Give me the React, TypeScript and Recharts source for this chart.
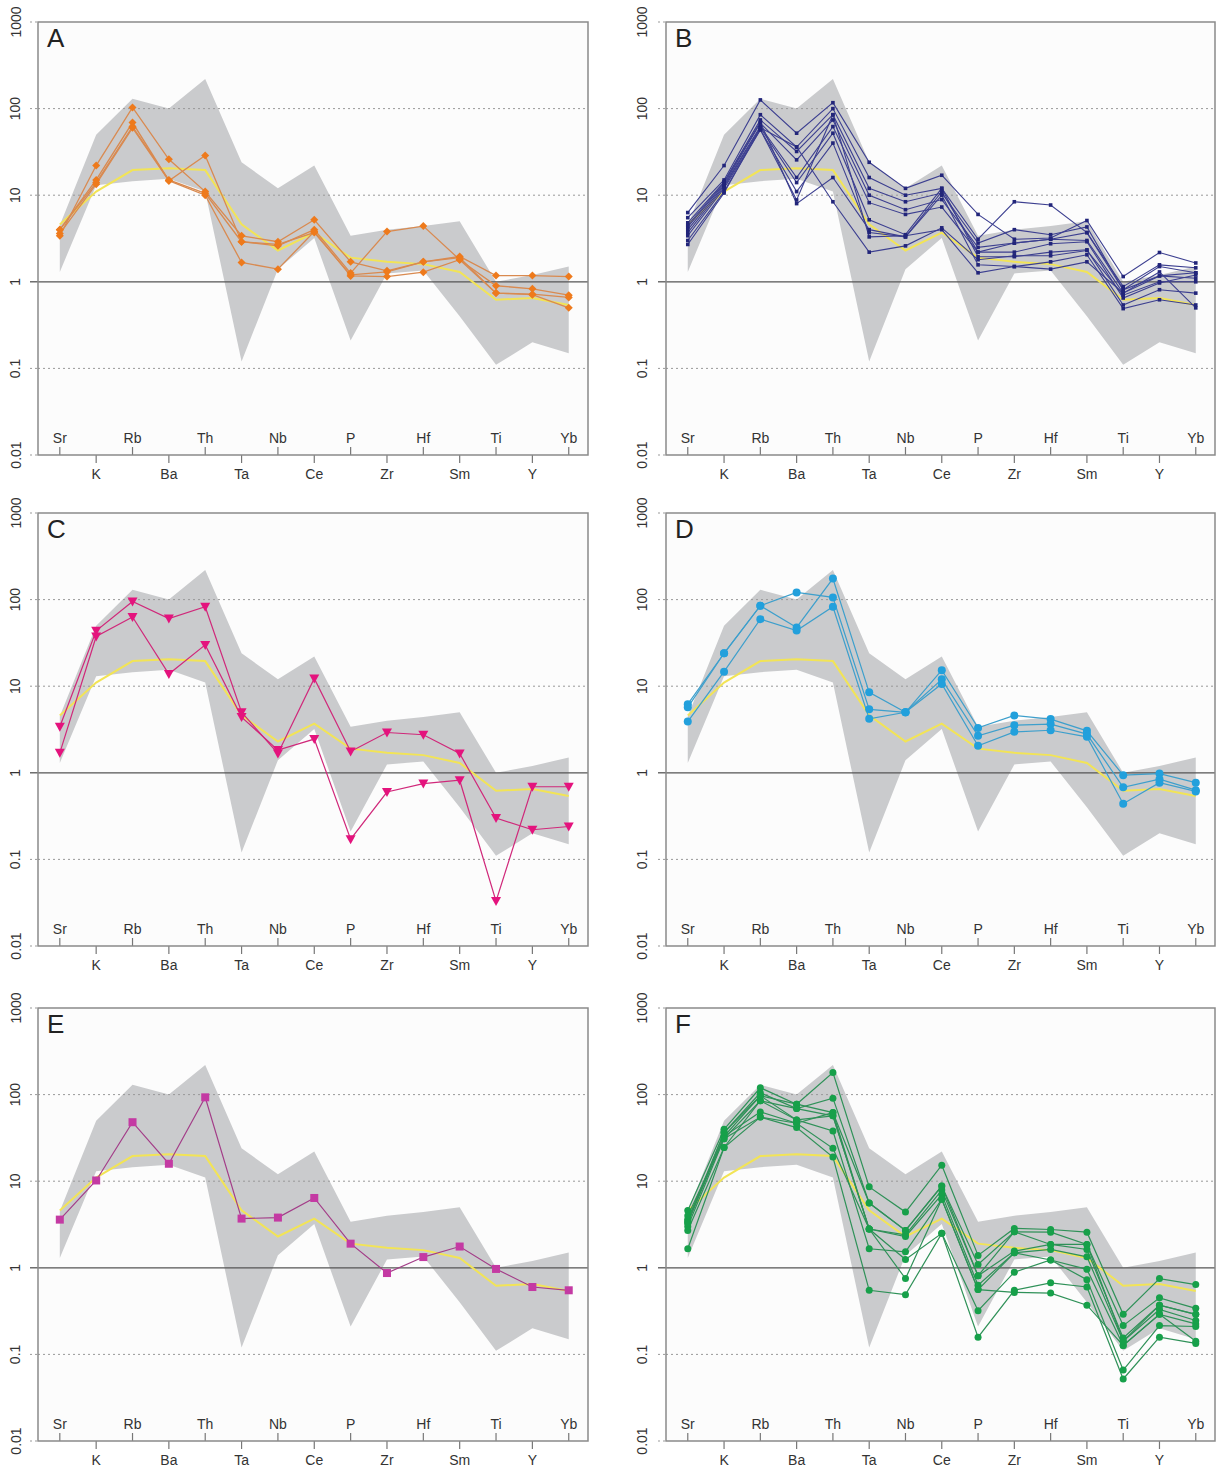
import React from 'react';
import { ComposedChart, Line, Area, XAxis, YAxis, ReferenceLine } from 'recharts';

const ELEMENTS = ['Sr', 'K', 'Rb', 'Ba', 'Th', 'Ta', 'Nb', 'Ce', 'P', 'Zr', 'Hf', 'Sm', 'Ti', 'Y', 'Yb'];
const Y_TICKS = [0.01, 0.1, 1, 10, 100, 1000];

const BAND_LOW = [1.3, 13, 14.5, 15.5, 11, 0.12, 1.4, 3.2, 0.21, 1.25, 1.35, 0.4, 0.11, 0.2, 0.15];
const BAND_HIGH = [4.5, 50, 130, 100, 220, 24, 12, 22, 3.4, 4.0, 4.4, 5.0, 1.0, 1.2, 1.5];
const AVERAGE = [4.6, 11, 19.5, 20.5, 19.5, 4.6, 2.3, 3.7, 1.9, 1.7, 1.6, 1.3, 0.62, 0.65, 0.54];

const A_SAMPLES = [
  [3.4, 22, 103, 26, 11, 3.4, 2.9, 5.2, 1.7, 1.34, 1.7, 1.96, 1.18, 1.18, 1.15],
  [4.0, 15, 69, 14.7, 28.7, 2.9, 2.6, 4.0, 1.26, 3.8, 4.4, 1.8, 0.9, 0.83, 0.7],
  [3.6, 13.4, 60, 14.7, 10, 1.67, 1.4, 3.8, 1.17, 1.15, 1.29, 1.8, 0.74, 0.71, 0.5],
  [4.0, 14, 62, 15, 10.5, 2.9, 2.7, 3.7, 1.2, 1.3, 1.7, 1.9, 0.74, 0.72, 0.66],
];

const B_SAMPLES = [
  [6.3, 22, 126, 52, 117, 24, 12, 17, 6.0, 3.1, 3.2, 5.1, 1.15, 2.18, 1.65],
  [5.5, 15, 85, 36, 100, 16, 10, 12, 3.1, 8.4, 7.7, 3.7, 0.88, 1.57, 1.45],
  [4.8, 14.3, 74, 32, 85, 12, 8.4, 10.6, 2.8, 4.0, 3.5, 4.3, 0.81, 1.5, 1.27],
  [4.3, 13.5, 68, 25.6, 74, 10, 6.8, 8.9, 2.5, 2.8, 3.1, 3.0, 0.74, 1.17, 1.1],
  [4.0, 13, 62, 16, 62, 8.2, 6.0, 7.3, 2.2, 2.2, 2.75, 2.9, 0.65, 0.97, 1.2],
  [3.7, 12.5, 60, 14, 52, 5.2, 3.5, 12, 1.95, 1.95, 2.2, 2.34, 0.54, 0.81, 0.74],
  [3.4, 12, 57, 11, 40, 3.7, 3.3, 10, 1.57, 1.5, 1.7, 2.05, 0.49, 0.62, 0.54],
  [3.0, 11, 57, 8.8, 85, 3.3, 3.4, 4.0, 1.27, 1.5, 1.4, 1.7, 0.74, 1.3, 0.5],
  [2.7, 10.6, 60, 36, 8.4, 2.2, 2.6, 4.2, 1.8, 2.0, 2.0, 2.3, 0.7, 1.0, 1.0],
  [4.5, 14, 70, 8.0, 16, 4.0, 3.3, 11, 2.2, 2.8, 3.1, 3.7, 0.81, 1.17, 1.27],
];

const C_SAMPLES = [
  [3.4, 43.6, 95, 60.5, 82.6, 5.0, 1.67, 12.3, 1.76, 2.92, 2.75, 1.67, 0.3, 0.22, 0.24],
  [1.7, 37.5, 63, 13.8, 30, 4.4, 1.83, 2.45, 0.171, 0.6, 0.75, 0.82, 0.033, 0.69, 0.69],
];

const D_SAMPLES = [
  [6.2, 24, 85, 121, 106, 5.4, 5.0, 15.3, 3.3, 4.6, 4.17, 3.05, 0.94, 0.98, 0.77],
  [5.7, 24, 85, 47.7, 175, 8.5, 5.0, 12, 2.67, 3.55, 3.65, 2.8, 0.68, 0.845, 0.63],
  [3.9, 14.7, 59.5, 44, 82.6, 4.2, 5.0, 10.6, 2.05, 2.97, 3.1, 2.6, 0.44, 0.77, 0.61],
];

const E_SAMPLES = [
  [3.6, 10.2, 48, 15.9, 93, 3.7, 3.8, 6.4, 1.9, 0.87, 1.33, 1.76, 0.97, 0.6, 0.55],
];

const F_SAMPLES = [
  [4.6, 39.8, 120, 77.5, 180, 8.6, 4.4, 15.3, 1.39, 2.85, 2.77, 2.58, 0.29, 0.75, 0.64],
  [3.6, 36.5, 105, 69, 91, 5.6, 2.7, 8.8, 1.09, 2.6, 2.58, 1.86, 0.215, 0.45, 0.34],
  [3.3, 33, 97, 77.5, 62, 2.8, 2.4, 7.9, 0.81, 1.56, 1.86, 1.63, 0.155, 0.37, 0.29],
  [3.0, 31, 85, 69, 56.8, 2.8, 2.3, 7.0, 0.63, 1.49, 1.63, 1.34, 0.142, 0.33, 0.246],
  [2.7, 24.5, 85, 51, 38, 1.66, 1.53, 6.2, 0.56, 1.49, 1.23, 0.96, 0.127, 0.29, 0.225],
  [3.5, 33, 63, 46.7, 24, 2.8, 1.25, 2.5, 0.32, 0.89, 1.23, 0.73, 0.066, 0.215, 0.21],
  [1.66, 24.5, 55, 41.6, 19, 0.55, 0.49, 2.5, 0.158, 0.55, 0.67, 0.6, 0.052, 0.158, 0.134],
  [3.3, 36.5, 97, 51, 56.8, 2.8, 0.75, 6.2, 0.56, 0.52, 0.51, 0.37, 0.127, 0.29, 0.142],
  [4.0, 31, 55, 46.7, 62, 5.6, 2.7, 8.8, 0.81, 2.6, 1.86, 1.86, 0.142, 0.37, 0.29],
];

const FONT = '"Liberation Sans", Arial, "DejaVu Sans", sans-serif';
const PLOT_TOP = 22;
const PLOT_H = 433;
const PLOT_BOTTOM = PLOT_TOP + PLOT_H;
const CHART_H = 490;
const X_DOMAIN: [number, number] = [-0.6, 14.53];

const COLS = [
  { left: 0, width: 600, yw: 38, mr: 12, labelX: 15.5 },
  { left: 610, width: 607, yw: 56, mr: 2, labelX: 32 },
];

const PANELS = [
  { letter: 'A', col: 0, top: 0, samples: A_SAMPLES, line: '#d98a50', marker: '#ee7a1c', kind: 'diamond', size: 4, sw: 1.3 },
  { letter: 'B', col: 1, top: 0, samples: B_SAMPLES, line: '#3c3f90', marker: '#22257a', kind: 'square', size: 1.8, sw: 1.1 },
  { letter: 'C', col: 0, top: 491, samples: C_SAMPLES, line: '#d0287a', marker: '#e4137d', kind: 'triangle', size: 5, sw: 1.2 },
  { letter: 'D', col: 1, top: 491, samples: D_SAMPLES, line: '#3d9fcc', marker: '#22a0dc', kind: 'circle', size: 4, sw: 1.2 },
  { letter: 'E', col: 0, top: 986, samples: E_SAMPLES, line: '#a33d88', marker: '#c43aa3', kind: 'square', size: 4, sw: 1.2 },
  { letter: 'F', col: 1, top: 986, samples: F_SAMPLES, line: '#2f9158', marker: '#17a04a', kind: 'circle', size: 3.5, sw: 1.2 },
];

function makeDot(kind: string, color: string, s: number) {
  return (p: any) => {
    const { cx, cy, index } = p;
    const key = `dot-${index}`;
    if (cx == null || cy == null || isNaN(cx) || isNaN(cy)) return <g key={key} />;
    if (kind === 'circle') return <circle key={key} cx={cx} cy={cy} r={s} fill={color} />;
    if (kind === 'square') return <rect key={key} x={cx - s} y={cy - s} width={2 * s} height={2 * s} fill={color} />;
    if (kind === 'diamond')
      return <path key={key} d={`M${cx},${cy - s}L${cx + s},${cy}L${cx},${cy + s}L${cx - s},${cy}Z`} fill={color} />;
    return <path key={key} d={`M${cx - s},${cy - s * 0.8}L${cx + s},${cy - s * 0.8}L${cx},${cy + s}Z`} fill={color} />;
  };
}

function XTick(p: any) {
  const { x, payload } = p;
  const i = payload.value as number;
  const name = ELEMENTS[i];
  const inside = i % 2 === 0;
  return (
    <g>
      {inside ? (
        <line x1={x} x2={x} y1={PLOT_BOTTOM - 8} y2={PLOT_BOTTOM} stroke="#777" strokeWidth={1.2} />
      ) : (
        <line x1={x} x2={x} y1={PLOT_BOTTOM} y2={PLOT_BOTTOM + 8} stroke="#777" strokeWidth={1.2} />
      )}
      <text
        x={x}
        y={inside ? PLOT_BOTTOM - 12.5 : PLOT_BOTTOM + 24}
        textAnchor="middle"
        fontSize={14}
        fontFamily={FONT}
        fill="#333"
      >
        {name}
      </text>
    </g>
  );
}

function makeYTick(axisX: number, labelX: number) {
  return (p: any) => {
    const { y, payload } = p;
    const v = payload.value as number;
    return (
      <g>
        <line
          x1={axisX - 8}
          x2={axisX}
          y1={y}
          y2={y}
          stroke={v === 1 ? '#555' : '#999'}
          strokeWidth={v === 1 ? 1.3 : 1}
          strokeDasharray={v === 1 ? undefined : '2 3'}
        />
        <text
          x={labelX}
          y={y}
          transform={`rotate(-90 ${labelX} ${y})`}
          textAnchor="middle"
          dominantBaseline="central"
          fontSize={14}
          fontFamily={FONT}
          fill="#333"
        >
          {String(v)}
        </text>
      </g>
    );
  };
}

function Panel({ cfg }: { cfg: any }) {
  const col = COLS[cfg.col];
  const data = ELEMENTS.map((el, i) => {
    const row: any = { x: i, name: el, band: [BAND_LOW[i], BAND_HIGH[i]], avg: AVERAGE[i] };
    cfg.samples.forEach((s: number[], j: number) => {
      row['s' + j] = s[i];
    });
    return row;
  });
  const plotW = col.width - col.yw - col.mr;
  const dot = makeDot(cfg.kind, cfg.marker, cfg.size);
  return (
    <div style={{ position: 'absolute', left: col.left, top: cfg.top, width: col.width, height: CHART_H }}>
      <svg width={col.width} height={CHART_H} style={{ position: 'absolute', left: 0, top: 0 }}>
        <rect x={col.yw} y={PLOT_TOP} width={plotW} height={PLOT_H} fill="#fcfcfc" />
      </svg>
      <div style={{ position: 'absolute', left: 0, top: 0 }}>
        <ComposedChart
          width={col.width}
          height={CHART_H}
          data={data}
          margin={{ top: PLOT_TOP, right: col.mr, bottom: 0, left: 0 }}
        >
          <XAxis
            dataKey="x"
            type="number"
            domain={X_DOMAIN}
            ticks={ELEMENTS.map((_, i) => i)}
            interval={0}
            height={35}
            axisLine={false}
            tickLine={false}
            tick={(p: any) => <XTick {...p} />}
            allowDataOverflow
          />
          <YAxis
            type="number"
            scale="log"
            domain={[0.01, 1000]}
            ticks={Y_TICKS}
            interval={0}
            width={col.yw}
            axisLine={false}
            tickLine={false}
            tick={makeYTick(col.yw, col.labelX)}
            allowDataOverflow
          />
          <Area
            dataKey="band"
            type="linear"
            fill="#cacbcd"
            fillOpacity={1}
            stroke="none"
            isAnimationActive={false}
            dot={false}
            activeDot={false}
          />
          <ReferenceLine y={100} stroke="#999" strokeDasharray="2 3" strokeWidth={1} />
          <ReferenceLine y={10} stroke="#999" strokeDasharray="2 3" strokeWidth={1} />
          <ReferenceLine y={0.1} stroke="#999" strokeDasharray="2 3" strokeWidth={1} />
          <ReferenceLine y={1} stroke="#555" strokeWidth={1.3} />
          <Line
            dataKey="avg"
            type="linear"
            stroke="#f2e456"
            strokeWidth={2}
            dot={false}
            activeDot={false}
            isAnimationActive={false}
          />
          {cfg.samples.map((_: any, j: number) => (
            <Line
              key={'s' + j}
              dataKey={'s' + j}
              type="linear"
              stroke={cfg.line}
              strokeWidth={cfg.sw}
              dot={dot}
              activeDot={false}
              isAnimationActive={false}
            />
          ))}
        </ComposedChart>
      </div>
      <svg
        width={col.width}
        height={CHART_H}
        style={{ position: 'absolute', left: 0, top: 0, pointerEvents: 'none' }}
      >
        <rect x={col.yw} y={PLOT_TOP} width={plotW} height={PLOT_H} fill="none" stroke="#8a8a8a" strokeWidth={1.5} />
        <text x={col.yw + 9} y={PLOT_TOP + 25} fontSize={26} fontFamily={FONT} fill="#222">
          {cfg.letter}
        </text>
      </svg>
    </div>
  );
}

export default function App() {
  return (
    <div
      style={{
        position: 'absolute',
        left: 0,
        top: 0,
        width: 1217,
        height: 1470,
        background: '#ffffff',
        overflow: 'hidden',
      }}
    >
      {PANELS.map((cfg) => (
        <Panel key={cfg.letter} cfg={cfg} />
      ))}
    </div>
  );
}
